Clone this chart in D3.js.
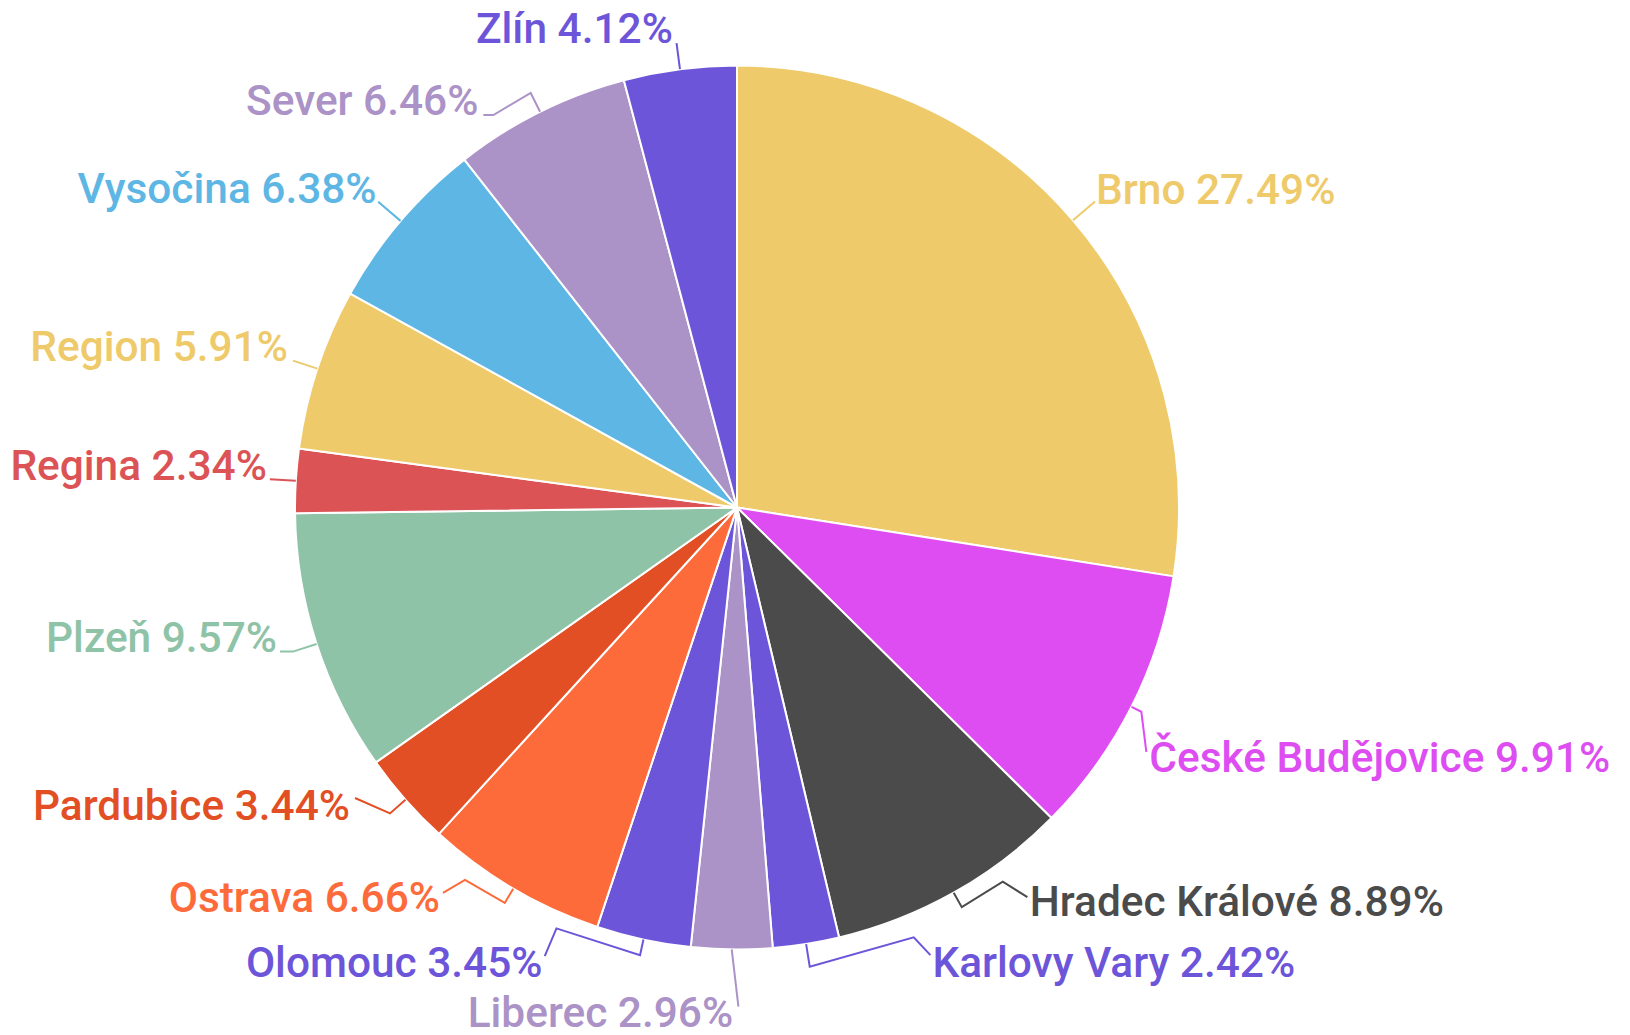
<!DOCTYPE html>
<html><head><meta charset="utf-8">
<script src="https://cdn.jsdelivr.net/npm/d3@7"></script>
<style>html,body{margin:0;padding:0;background:#fff;} svg{display:block}</style>
</head><body><svg id="chart" width="1630" height="1035"></svg>
<script>
const categories = ["Brno","České Budějovice","Hradec Králové","Karlovy Vary","Liberec","Olomouc","Ostrava","Pardubice","Plzeň","Regina","Region","Vysočina","Sever","Zlín"];
const values = [27.49,9.91,8.89,2.42,2.96,3.45,6.66,3.44,9.57,2.34,5.91,6.38,6.46,4.12];
const colors = ["#EECA6A","#DD4DF1","#4B4B4B","#6D55DA","#AB92C7","#6D55DA","#FD6B3B","#E34F24","#8FC3A7","#DC5356","#EECA6A","#5EB6E4","#AB92C7","#6D55DA"];

// label layout (leader radial length, bends relative to radial point, text offset)
const leaderLength = [29,11,16.5,23,0,16,16.6,20.6,24.8,26,25.7,29.4,21,26.4];
const leaderBends = [[],[[5,40]],[[41,-25.5],[65.6,-9.9]],[[104,-29.4],[120.7,-11.7]],[[6.7,57.2]],[[-83.6,-26.7],[-95.3,1]],[[-39.8,-23],[-61.8,-10]],[[-35,-15.4]],[[-13,0]],[],[],[],[[-37.3,22],[-47.3,22]],[]];
const labelOffset = [[1,2],[8,60],[68,9],[122.7,10.3],[1.4,77.5],[-97.6,22],[-64.8,9],[-40,6.6],[-16,0.3],[-3,1],[-5,0.3],[-1.6,1.3],[-52.3,22],[-3.7,0]];

const W = 1630, H = 1035, cx = 737, cy = 507.5, R = 442;
const data = categories.map((c,i)=>({name:c, value:values[i], color:colors[i], i}));
const svg = d3.select("#chart");
const g = svg.append("g").attr("transform",`translate(${cx},${cy})`);
const pie = d3.pie().sort(null).value(d=>d.value);
const arc = d3.arc().innerRadius(0).outerRadius(R);
const arcs = pie(data);

g.selectAll("path.slice").data(arcs).join("path")
  .attr("class","slice")
  .attr("d",arc)
  .attr("fill",d=>d.data.color)
  .attr("stroke","#fff")
  .attr("stroke-width",2)
  .attr("stroke-linejoin","round");

function pt(a, r){ return [r*Math.sin(a), -r*Math.cos(a)]; }

arcs.forEach(d=>{
  const i = d.data.i;
  const a = (d.startAngle+d.endAngle)/2;
  const p0 = pt(a, R);
  const p1 = pt(a, R+leaderLength[i]);
  const pts = [p0, p1].concat(leaderBends[i].map(b=>[p1[0]+b[0], p1[1]+b[1]]));
  g.append("path")
    .attr("d", d3.line()(pts))
    .attr("fill","none")
    .attr("stroke", d.data.color)
    .attr("stroke-width",2);
  const right = a < Math.PI;
  g.append("text")
    .attr("x", p1[0]+labelOffset[i][0])
    .attr("y", p1[1]+labelOffset[i][1])
    .attr("text-anchor", right ? "start" : "end")
    .attr("fill", d.data.color)
    .style("font-family","Roboto, 'Noto Sans', sans-serif")
    .style("font-weight",500)
    .style("font-size","42.4px")
    .text(`${d.data.name} ${d.data.value.toFixed(2)}%`);
});
</script></body></html>
